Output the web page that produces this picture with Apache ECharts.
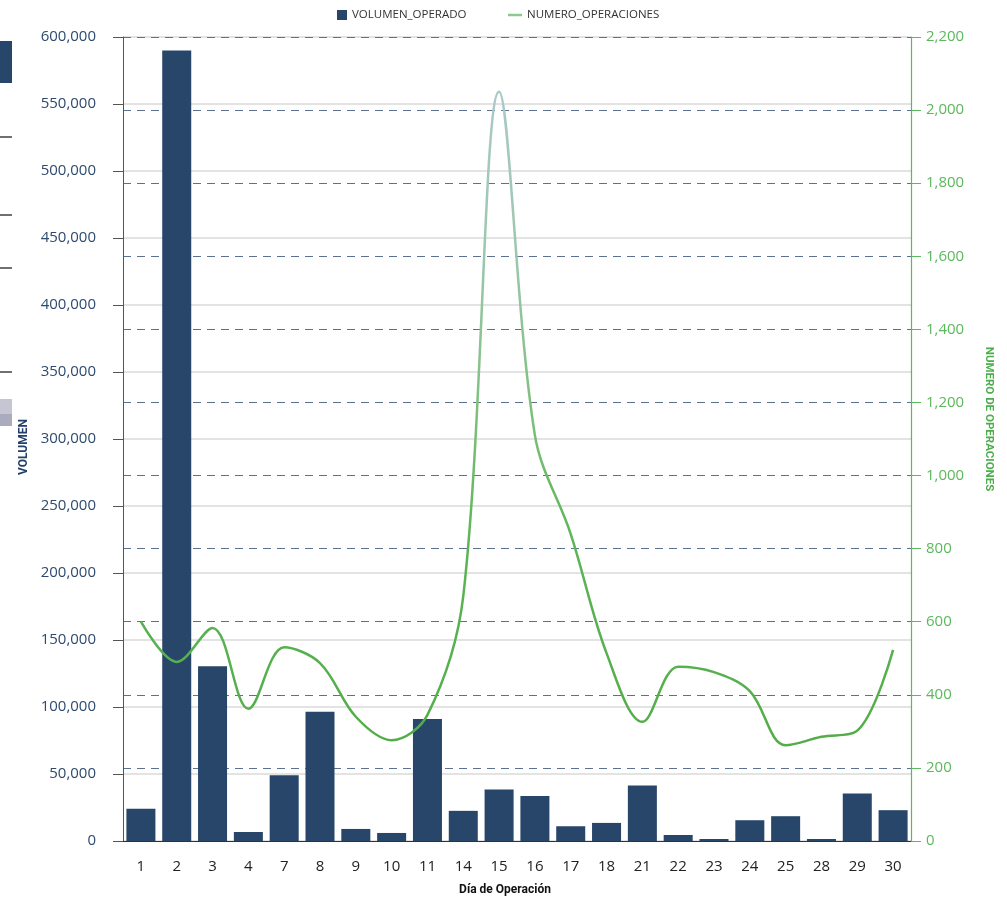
<!DOCTYPE html>
<html>
<head>
  <meta charset="utf-8">
  <title>Volumen operado / número de operaciones</title>
  <style>
    html, body { margin: 0; padding: 0; background: #fff; }
    #main { width: 1007px; height: 897px; }
  </style>
</head>
<body>
  <div id="main"></div>
  <script src="https://cdn.jsdelivr.net/npm/echarts@6/dist/echarts.min.js"></script>
  <script>
    // días de operación
    const dias = ['1', '2', '3', '4', '7', '8', '9', '10', '11', '14', '15', '16', '17', '18', '21', '22', '23', '24', '25', '28', '29', '30'];
    // VOLUMEN_OPERADO (eje izquierdo)
    const volumen = [24000, 590000, 130500, 6700, 49000, 96500, 9000, 6000, 91000, 22500, 38500, 33500, 11000, 13500, 41500, 4500, 1500, 15500, 18500, 1500, 35500, 23000];
    // NUMERO_OPERACIONES (eje derecho)
    const operaciones = [600, 490, 583, 362, 530, 487, 340, 276, 345, 670, 2050, 1110, 840, 514, 326, 477, 462, 410, 262, 285, 302, 523];

    const fmt = v => Number(v).toLocaleString('en-US');
    const FONT = 'Open Sans';

    const chart = echarts.init(document.getElementById('main'));
    chart.setOption({
      animation: false,
      textStyle: { fontFamily: FONT },
      legend: [
        {
          left: 337, top: 9, padding: 0,
          itemWidth: 10, itemHeight: 10,
          textStyle: { fontSize: 11.5, color: '#333', fontFamily: FONT },
          data: [{ name: 'VOLUMEN_OPERADO', icon: 'rect' }]
        },
        {
          left: 508, top: 9, padding: 0,
          itemWidth: 14, itemHeight: 2.5,
          textStyle: { fontSize: 11.5, color: '#333', fontFamily: FONT },
          data: [{ name: 'NUMERO_OPERACIONES', icon: 'rect', itemStyle: { color: '#8cc98c' } }]
        }
      ],
      grid: { left: 123, right: 96, top: 37, bottom: 56, containLabel: false, outerBoundsMode: 'none' },
      xAxis: {
        type: 'category',
        data: dias,
        name: 'Día de Operación',
        nameLocation: 'middle',
        nameGap: 43,
        nameTextStyle: { fontFamily: 'Roboto', fontWeight: 'bold', fontSize: 12, color: '#111', padding: [0, 24, 0, 0] },
        axisLine: { lineStyle: { color: '#333', width: 1 } },
        axisTick: { alignWithLabel: true, length: 8, lineStyle: { color: '#333' } },
        axisLabel: { color: '#222', fontSize: 15, margin: 18 }
      },
      yAxis: [
        {
          type: 'value',
          min: 0, max: 600000, interval: 50000,
          name: 'VOLUMEN',
          nameLocation: 'middle',
          nameGap: 84,
          nameTextStyle: { fontFamily: 'Roboto', fontWeight: 'bold', fontSize: 12, color: '#24406a', padding: [0, 16, 0, 0] },
          axisLine: { show: true, lineStyle: { color: '#555', width: 1 } },
          axisTick: { show: true, length: 10, lineStyle: { color: '#555' } },
          axisLabel: { color: '#2d4a6e', fontSize: 15, margin: 27, formatter: fmt },
          splitLine: { lineStyle: { color: '#e3e3e3', width: 2 } }
        },
        {
          type: 'value',
          position: 'right',
          min: 0, max: 2200, interval: 200,
          name: 'NUMERO DE OPERACIONES',
          nameLocation: 'middle',
          nameRotate: -90,
          nameGap: 72,
          nameTextStyle: { fontFamily: 'Roboto', fontWeight: 'bold', fontSize: 11.5, color: '#4cae4c', padding: [0, 40, 0, 0] },
          axisLine: { show: true, lineStyle: { color: '#5cb85c', width: 1.2 } },
          axisTick: { show: true, length: 10, lineStyle: { color: '#5cb85c' } },
          axisLabel: { color: '#5cb85c', fontSize: 15, margin: 15, formatter: fmt },
          splitLine: { lineStyle: { color: '#5d7190', width: 1.2, type: [8, 6] } }
        }
      ],
      series: [
        {
          name: 'VOLUMEN_OPERADO',
          type: 'bar',
          data: volumen,
          barCategoryGap: '19%',
          itemStyle: { color: '#27466a' }
        },
        {
          name: 'NUMERO_OPERACIONES',
          type: 'line',
          yAxisIndex: 1,
          data: operaciones,
          smooth: 0.35,
          symbol: 'none',
          lineStyle: {
            width: 2.5,
            color: new echarts.graphic.LinearGradient(0, 0, 0, 1, [
              { offset: 0, color: '#abc9c8' },
              { offset: 0.25, color: '#9cc7ae' },
              { offset: 0.47, color: '#80c080' },
              { offset: 0.7, color: '#5cb456' },
              { offset: 1, color: '#52ad48' }
            ])
          }
        }
      ],
      // restos de un control recortado en el borde izquierdo
      graphic: [
        { type: 'rect', shape: { x: 0, y: 41, width: 12, height: 42 }, style: { fill: '#27466a' } },
        { type: 'line', shape: { x1: 0, y1: 137, x2: 12, y2: 137 }, style: { stroke: '#111', lineWidth: 1.2 } },
        { type: 'line', shape: { x1: 0, y1: 215, x2: 12, y2: 215 }, style: { stroke: '#111', lineWidth: 1.2 } },
        { type: 'line', shape: { x1: 0, y1: 268, x2: 12, y2: 268 }, style: { stroke: '#111', lineWidth: 1.2 } },
        { type: 'line', shape: { x1: 0, y1: 372, x2: 12, y2: 372 }, style: { stroke: '#111', lineWidth: 1.2 } },
        { type: 'rect', shape: { x: 0, y: 399, width: 12, height: 15 }, style: { fill: '#c6c6d2' } },
        { type: 'rect', shape: { x: 0, y: 414, width: 12, height: 12 }, style: { fill: '#ababbf' } }
      ]
    });
  </script>
</body>
</html>
